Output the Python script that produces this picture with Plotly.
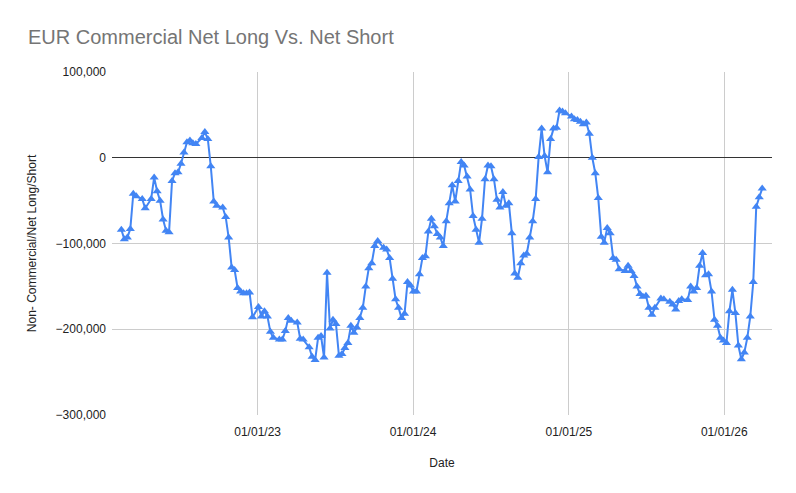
import pandas as pd
import plotly.graph_objects as go

# Weekly COT report dates (Tuesdays)
start_date = "2022-02-15"
end_date = "2026-03-31"

# Commercial net position (thousands of contracts); None = week not readable in the picture
net_k = [
    -84, -95, -93, -83, -42, -45, None, -48, -59, None,
    -48, -23, -39, -50, -72, -85, -87, -27, -18, -17,
    -7, 6, 18, 20, 17, 16, None, 23, 30, 22,
    -10, -51, -56, None, -58, -69, -93, -128, -131, -152,
    -156, -158, -158, -157, -186, None, -174, -185, -179, -185,
    -203, -210, None, -212, -212, -202, -187, -190, None, -192,
    -211, -212, None, -221, -232, -236, -210, -208, -233, -134,
    -199, -189, -194, -231, -229, -222, -216, -196, -204, -198,
    -187, -175, -150, -129, -123, -103, -97, None, -105, -107,
    -117, -141, -165, -175, -187, -182, -145, -149, -156, -156,
    -136, -117, -115, -86, -71, -80, -89, -93, -103, -74,
    -53, -32, -51, -27, -5, -9, -22, -37, -68, -84,
    -99, -71, -25, -9, -10, -25, -49, -58, -40, -56,
    -53, -88, -135, -140, -123, -114, -112, -93, -74, -48,
    1, 34, 2, -17, 22, 34, 35, 55, 54, 52,
    None, 48, 45, 44, 42, 39, 41, 28, 0, -18,
    -47, -92, -99, -82, -88, -117, -119, -130, None, -132,
    -126, -132, -138, -150, -159, -162, -161, -175, -183, -175,
    None, -164, -165, None, -168, -171, -177, -167, -165, None,
    -166, -150, -156, -152, -126, -111, -137, -136, -156, -189,
    -196, -210, -213, -216, -179, -154, -181, -219, -235, -227,
    -210, -185, -145, -57, -46, -36,
]

x_tick_dates = ["2023-01-01", "2024-01-01", "2025-01-01", "2026-01-01"]
x_tick_text = ["01/01/23", "01/01/24", "01/01/25", "01/01/26"]
y_ticks = [-300000, -200000, -100000, 0, 100000]

dates = pd.date_range(start_date, end_date, freq="7D")
values = [None if v is None else v * 1000 for v in net_k]

BLUE = "#4285F4"
FONT = "Arial, Liberation Sans, sans-serif"

fig = go.Figure()
fig.add_trace(go.Scatter(
    x=dates, y=values, mode="lines+markers", connectgaps=True,
    line=dict(color=BLUE, width=2),
    marker=dict(symbol="triangle-up", size=8, color=BLUE),
    showlegend=False,
))

fig.update_layout(
    width=796, height=493,
    paper_bgcolor="white", plot_bgcolor="white",
    margin=dict(l=112, r=24, t=72, b=78),
    font=dict(family=FONT, size=12, color="#222222"),
    title=dict(text="EUR Commercial Net Long Vs. Net Short",
               xref="container", x=28 / 796, xanchor="left",
               yref="container", y=1 - 37 / 493, yanchor="middle",
               font=dict(size=20, color="#757575", family=FONT)),
)

fig.update_xaxes(
    type="date", range=["2022-01-24", "2026-04-23"],
    tickvals=x_tick_dates, ticktext=x_tick_text,
    showgrid=True, gridcolor="#cccccc", gridwidth=1,
    showline=False, zeroline=False, ticks="", automargin=False,
    ticklabelstandoff=8,
    tickfont=dict(size=12, color="#222222"),
    title=dict(text="Date", font=dict(size=12, color="#222222"), standoff=20),
)
fig.update_yaxes(
    range=[-300000, 100000], tickvals=y_ticks, tickformat=",",
    showgrid=True, gridcolor="#cccccc", gridwidth=1,
    zeroline=True, zerolinecolor="#333333", zerolinewidth=1,
    showline=False, ticks="", automargin=False, ticklabelstandoff=5,
    tickfont=dict(size=12, color="#222222"),
    title=dict(text="Non- Commercial/Net Long/Short",
               font=dict(size=12, color="#222222"), standoff=16),
)

fig.write_html("out.html", config={"displayModeBar": False},
               post_script="document.body.style.margin='0';")
